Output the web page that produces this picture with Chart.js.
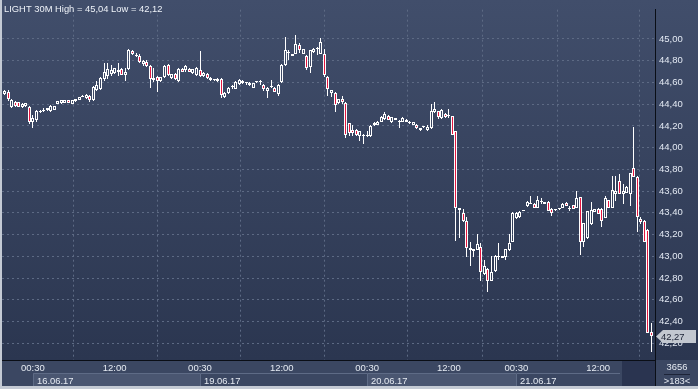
<!DOCTYPE html>
<html>
<head>
<meta charset="utf-8">
<title>LIGHT 30M</title>
<script src="https://cdn.jsdelivr.net/npm/chart.js@4.4.0/dist/chart.umd.min.js"></script>
<style>
  html, body { margin: 0; padding: 0; background: #c4cad4; }
  #wrap { width: 698px; height: 389px; }
  canvas { display: block; }
</style>
</head>
<body>
<div id="wrap"><canvas id="chart" width="698" height="389"></canvas></div>
<script>
const SYMBOL = "LIGHT 30M";
const TOTAL_BARS = 3656;

// 30 minute candles, 16.06.17 - 21.06.17
const OPEN = [
  44.49, 44.51, 44.37, 44.42, 44.42, 44.37, 44.38, 44.37, 44.24, 44.25,
  44.33, 44.34, 44.35, 44.34, 44.35, 44.40, 44.41, 44.41, 44.44, 44.40,
  44.43, 44.44, 44.47, 44.46, 44.475, 44.44, 44.53, 44.54, 44.63, 44.66,
  44.68, 44.69, 44.71, 44.72, 44.67, 44.72, 44.89, 44.85, 44.84, 44.77,
  44.79, 44.75, 44.62, 44.65, 44.61, 44.65, 44.76, 44.64, 44.68, 44.61,
  44.72, 44.71, 44.72, 44.69, 44.67, 44.71, 44.66, 44.68, 44.62, 44.62,
  44.61, 44.635, 44.465, 44.50, 44.555, 44.54, 44.585, 44.61, 44.595, 44.595,
  44.55, 44.60, 44.605, 44.58, 44.52, 44.555, 44.55, 44.49, 44.60, 44.76,
  44.87, 44.86, 44.866, 44.945, 44.865, 44.845, 44.746, 44.88, 44.91, 44.866,
  44.857, 44.648, 44.507, 44.498, 44.41, 44.448, 44.409, 44.224, 44.164, 44.16,
  44.104, 44.119, 44.104, 44.104, 44.209, 44.209, 44.239, 44.26, 44.29, 44.239,
  44.269, 44.244, 44.239, 44.254, 44.239, 44.209, 44.21, 44.164, 44.194, 44.164,
  44.179, 44.328, 44.338, 44.269, 44.313, 44.29, 44.29, 44.15, 43.424, 43.403,
  43.329, 43.054, 43.045, 43.06, 43.09, 42.836, 42.881, 42.776, 42.866, 42.994,
  42.985, 42.994, 43.054, 43.135, 43.352, 43.358, 43.42, 43.463, 43.484, 43.484,
  43.448, 43.499, 43.499, 43.502, 43.433, 43.424, 43.439, 43.442, 43.493, 43.439,
  43.469, 43.448, 43.544, 43.135, 43.164, 43.293, 43.412, 43.433, 43.433, 43.352,
  43.514, 43.448, 43.573, 43.693, 43.573, 43.582, 43.573, 43.812, 43.732, 43.344,
  43.323, 43.239, 42.308
];
const HIGH = [
  44.53, 44.53, 44.45, 44.43, 44.42, 44.41, 44.41, 44.38, 44.30, 44.35,
  44.35, 44.36, 44.36, 44.39, 44.38, 44.43, 44.44, 44.44, 44.44, 44.44,
  44.45, 44.47, 44.48, 44.49, 44.48, 44.57, 44.61, 44.65, 44.78, 44.78,
  44.76, 44.73, 44.78, 44.73, 44.73, 44.91, 44.90, 44.87, 44.86, 44.81,
  44.81, 44.76, 44.73, 44.66, 44.65, 44.76, 44.77, 44.68, 44.69, 44.73,
  44.73, 44.76, 44.73, 44.72, 44.74, 44.89, 44.70, 44.69, 44.65, 44.63,
  44.64, 44.645, 44.51, 44.555, 44.575, 44.61, 44.635, 44.625, 44.605, 44.60,
  44.595, 44.615, 44.62, 44.585, 44.555, 44.62, 44.56, 44.585, 44.77, 45.015,
  44.895, 44.865, 45.04, 44.965, 44.91, 44.85, 44.90, 44.915, 44.925, 45.006,
  44.91, 44.66, 44.53, 44.51, 44.45, 44.478, 44.42, 44.23, 44.209, 44.17,
  44.149, 44.125, 44.149, 44.205, 44.239, 44.245, 44.29, 44.325, 44.30, 44.28,
  44.275, 44.25, 44.284, 44.26, 44.245, 44.24, 44.215, 44.18, 44.20, 44.209,
  44.403, 44.424, 44.34, 44.358, 44.32, 44.358, 44.295, 44.155, 43.442, 43.433,
  43.358, 43.129, 43.066, 43.209, 43.12, 42.97, 42.89, 43.006, 43.01, 43.12,
  43.0, 43.07, 43.209, 43.41, 43.41, 43.415, 43.43, 43.505, 43.553, 43.49,
  43.553, 43.532, 43.5, 43.505, 43.44, 43.43, 43.448, 43.49, 43.5, 43.463,
  43.475, 43.597, 43.55, 43.31, 43.418, 43.502, 43.435, 43.44, 43.44, 43.553,
  43.52, 43.741, 43.741, 43.753, 43.663, 43.645, 43.762, 44.188, 43.74, 43.36,
  43.33, 43.25, 42.388
];
const LOW = [
  44.485, 44.43, 44.36, 44.37, 44.37, 44.36, 44.37, 44.22, 44.18, 44.24,
  44.32, 44.33, 44.34, 44.33, 44.35, 44.40, 44.40, 44.41, 44.41, 44.40,
  44.42, 44.44, 44.465, 44.445, 44.42, 44.43, 44.52, 44.53, 44.61, 44.63,
  44.66, 44.68, 44.66, 44.67, 44.61, 44.71, 44.85, 44.83, 44.78, 44.75,
  44.74, 44.55, 44.60, 44.51, 44.60, 44.64, 44.66, 44.63, 44.62, 44.60,
  44.70, 44.70, 44.70, 44.68, 44.66, 44.65, 44.65, 44.63, 44.61, 44.61,
  44.60, 44.455, 44.46, 44.495, 44.535, 44.535, 44.58, 44.585, 44.58, 44.57,
  44.545, 44.59, 44.575, 44.52, 44.46, 44.55, 44.51, 44.475, 44.595, 44.755,
  44.805, 44.84, 44.86, 44.875, 44.86, 44.715, 44.686, 44.875, 44.85, 44.86,
  44.648, 44.478, 44.463, 44.328, 44.40, 44.40, 44.09, 44.104, 44.104, 44.11,
  44.06, 44.03, 44.10, 44.10, 44.20, 44.205, 44.235, 44.255, 44.25, 44.224,
  44.25, 44.179, 44.235, 44.235, 44.22, 44.205, 44.175, 44.149, 44.185, 44.149,
  44.175, 44.32, 44.26, 44.26, 44.275, 44.269, 44.119, 43.144, 43.164, 43.32,
  42.994, 42.91, 42.994, 43.055, 42.776, 42.83, 42.672, 42.77, 42.86, 42.97,
  42.98, 42.97, 43.05, 43.13, 43.345, 43.35, 43.415, 43.455, 43.478, 43.44,
  43.445, 43.48, 43.478, 43.418, 43.373, 43.415, 43.424, 43.44, 43.463, 43.418,
  43.439, 43.445, 43.015, 43.09, 43.16, 43.29, 43.41, 43.388, 43.269, 43.35,
  43.448, 43.445, 43.508, 43.573, 43.478, 43.58, 43.463, 43.73, 43.224, 43.3,
  43.135, 42.299, 42.12
];
const CLOSE = [
  44.52, 44.45, 44.44, 44.38, 44.37, 44.40, 44.41, 44.24, 44.27, 44.34,
  44.34, 44.35, 44.36, 44.38, 44.38, 44.43, 44.44, 44.44, 44.41, 44.44,
  44.45, 44.47, 44.475, 44.48, 44.44, 44.56, 44.58, 44.64, 44.70, 44.72,
  44.71, 44.73, 44.70, 44.67, 44.70, 44.90, 44.86, 44.84, 44.79, 44.80,
  44.75, 44.63, 44.64, 44.61, 44.65, 44.75, 44.67, 44.68, 44.63, 44.72,
  44.70, 44.75, 44.70, 44.72, 44.73, 44.66, 44.69, 44.64, 44.64, 44.625,
  44.635, 44.48, 44.505, 44.55, 44.56, 44.60, 44.62, 44.59, 44.59, 44.575,
  44.59, 44.605, 44.60, 44.54, 44.55, 44.56, 44.515, 44.58, 44.76, 44.895,
  44.875, 44.845, 44.955, 44.895, 44.91, 44.737, 44.895, 44.91, 44.905, 44.97,
  44.672, 44.537, 44.528, 44.388, 44.448, 44.418, 44.119, 44.134, 44.134, 44.119,
  44.149, 44.104, 44.119, 44.20, 44.224, 44.239, 44.284, 44.31, 44.254, 44.278,
  44.254, 44.239, 44.269, 44.239, 44.224, 44.239, 44.179, 44.179, 44.194, 44.194,
  44.338, 44.358, 44.278, 44.343, 44.278, 44.298, 44.119, 43.448, 43.442, 43.329,
  43.075, 43.075, 43.066, 43.114, 42.857, 42.91, 42.776, 42.857, 43.006, 43.006,
  43.0, 43.066, 43.12, 43.403, 43.403, 43.412, 43.424, 43.5, 43.484, 43.442,
  43.514, 43.499, 43.478, 43.418, 43.403, 43.424, 43.439, 43.484, 43.463, 43.439,
  43.439, 43.532, 43.135, 43.305, 43.418, 43.424, 43.433, 43.388, 43.329, 43.532,
  43.448, 43.612, 43.603, 43.573, 43.597, 43.642, 43.762, 43.732, 43.359, 43.314,
  43.135, 42.299, 42.27
];

const TIME_TICKS = [8, 31, 55, 78, 102, 125, 144, 167];
const TIME_LABELS = ["00:30", "12:00", "00:30", "12:00", "00:30", "12:00", "00:30", "12:00"];
const DATE_TICKS = [8, 55, 102, 144];
const DATE_LABELS = ["16.06.17", "19.06.17", "20.06.17", "21.06.17"];

const PRICE_MIN = 42.046;
const PRICE_MAX = 45.269;
const PRICE_STEP = 0.2;

const FONT = '"Liberation Sans", Arial, sans-serif';
const BG_TOP = "#414e6b";
const BG_BOTTOM = "#2b3650";
const GRID = "#5d6a84";
const DOWN = "#e3163f";
const LABEL = "#e3e9f3";

function fmt(v) {
  return v.toFixed(2).replace(".", ",");
}

function isDown(i) {
  return CLOSE[i] < OPEN[i];
}

const bodies = OPEN.map((o, i) => ({ x: i, y: [o, CLOSE[i]] }));
const upperWicks = OPEN.map((o, i) => ({ x: i, y: [Math.max(o, CLOSE[i]), HIGH[i]] }));
const lowerWicks = OPEN.map((o, i) => ({ x: i, y: [LOW[i], Math.min(o, CLOSE[i])] }));

// keep candles on whole pixels so 1px wicks stay sharp
const snapBars = {
  id: "snapBars",
  beforeDatasetsDraw(chart) {
    chart.getSortedVisibleDatasetMetas().forEach((meta) => {
      meta.data.forEach((bar) => {
        bar.x = Math.round(bar.x - 0.5) + 0.5;
        bar.y = Math.round(bar.y);
        bar.base = Math.round(bar.base);
      });
    });
  },
};

const frame = {
  id: "frame",
  beforeDraw(chart) {
    const { ctx, width, height, chartArea: a } = chart;
    ctx.save();
    const g = ctx.createLinearGradient(0, 0, 0, a.bottom);
    g.addColorStop(0, BG_TOP);
    g.addColorStop(1, BG_BOTTOM);
    ctx.fillStyle = g;
    ctx.fillRect(0, 0, width, a.bottom);

    ctx.fillStyle = "#3b4762";
    ctx.fillRect(0, a.bottom, width, height - a.bottom);

    // date boxes
    const xs = chart.scales.x;
    DATE_TICKS.forEach((t, k) => {
      const x1 = Math.round(xs.getPixelForValue(t));
      const x2 = k < DATE_TICKS.length - 1 ? Math.round(xs.getPixelForValue(DATE_TICKS[k + 1])) : 620;
      if (k % 2 === 0) {
        ctx.fillStyle = "#4a5671";
        ctx.fillRect(x1, 373, x2 - x1, 13);
      }
      ctx.strokeStyle = "#5e6b86";
      ctx.lineWidth = 1;
      ctx.beginPath();
      ctx.moveTo(x1 + 0.5, 386);
      ctx.lineTo(x1 + 0.5, 373.5);
      ctx.lineTo(x2, 373.5);
      ctx.stroke();
    });

    // scroll area and counter cell
    ctx.fillStyle = "#2a3450";
    ctx.fillRect(622, a.bottom + 1, a.right - 622, height - a.bottom - 4);
    ctx.restore();
  },
  afterDraw(chart) {
    const { ctx, width, height, chartArea: a } = chart;
    const ys = chart.scales.y;
    ctx.save();

    // title
    ctx.font = "9.4px " + FONT;
    ctx.fillStyle = "#eef2f8";
    ctx.textBaseline = "alphabetic";
    ctx.textAlign = "left";
    const hi = Math.max(...HIGH);
    const lo = Math.min(...LOW);
    ctx.fillText(SYMBOL + " High = " + fmt(hi) + " Low = " + fmt(lo), 4, 11.5);

    // date labels
    const xs = chart.scales.x;
    ctx.fillStyle = "#e6ebf3";
    DATE_TICKS.forEach((t, k) => {
      ctx.fillText(DATE_LABELS[k], Math.round(xs.getPixelForValue(t)) + 4, 384);
    });

    // right column divider through the bottom panel
    ctx.strokeStyle = "#0a0e16";
    ctx.lineWidth = 1;
    ctx.beginPath();
    ctx.moveTo(a.right + 0.5, a.bottom);
    ctx.lineTo(a.right + 0.5, height - 3);
    ctx.stroke();

    // bar counters
    ctx.textAlign = "center";
    ctx.fillText(String(TOTAL_BARS), 677, 370);
    ctx.fillText(">" + OPEN.length + "<", 677, 384);
    ctx.strokeStyle = "#1d2438";
    ctx.beginPath();
    ctx.moveTo(664, 374.5);
    ctx.lineTo(690, 374.5);
    ctx.stroke();

    // last price marker
    const last = CLOSE[CLOSE.length - 1];
    const py = Math.round(ys.getPixelForValue(last));
    ctx.fillStyle = "#c3c8d0";
    ctx.beginPath();
    ctx.moveTo(a.right + 1, py + 0.5);
    ctx.lineTo(a.right + 8, py - 6);
    ctx.lineTo(width - 2, py - 6);
    ctx.lineTo(width - 2, py + 7);
    ctx.lineTo(a.right + 8, py + 7);
    ctx.closePath();
    ctx.fill();
    ctx.fillStyle = "#1b2133";
    ctx.textAlign = "left";
    ctx.fillText(fmt(last), a.right + 6, py + 4);

    // outer light frame
    ctx.fillStyle = "#c4cad4";
    ctx.fillRect(0, 0, 2, height);
    ctx.fillRect(0, height - 3, width, 3);
    ctx.restore();
  },
};

Chart.defaults.font.family = FONT;

new Chart(document.getElementById("chart"), {
  type: "bar",
  data: {
    datasets: [
      {
        label: "Body",
        data: bodies,
        barThickness: 3,
        borderWidth: 1,
        borderSkipped: false,
        inflateAmount: 0,
        minBarLength: 1,
        borderColor: "#ffffff",
        backgroundColor: (c) => (isDown(c.dataIndex) ? DOWN : "rgba(0,0,0,0)"),
        grouped: false,
      },
      {
        label: "High",
        data: upperWicks,
        barThickness: 1,
        borderWidth: 0,
        inflateAmount: 0,
        backgroundColor: "#ffffff",
        grouped: false,
      },
      {
        label: "Low",
        data: lowerWicks,
        barThickness: 1,
        borderWidth: 0,
        inflateAmount: 0,
        backgroundColor: "#ffffff",
        grouped: false,
      },
    ],
  },
  options: {
    responsive: false,
    animation: false,
    devicePixelRatio: 1,
    layout: { padding: { left: 2, right: 0, top: 0, bottom: 0 } },
    plugins: { legend: { display: false }, tooltip: { enabled: false } },
    scales: {
      x: {
        type: "linear",
        min: -0.7,
        max: 182.99,
        offset: false,
        afterBuildTicks: (scale) => {
          scale.ticks = TIME_TICKS.map((v) => ({ value: v }));
        },
        afterFit: (scale) => {
          scale.height = 29;
        },
        ticks: {
          autoSkip: false,
          maxRotation: 0,
          padding: 3,
          color: "#e6ebf3",
          font: { size: 9.5 },
          callback: (v) => {
            const k = TIME_TICKS.indexOf(v);
            return k >= 0 ? TIME_LABELS[k] : "";
          },
        },
        grid: { color: GRID, drawTicks: false, lineWidth: 1 },
        border: { display: true, color: "#0a0e16", width: 1, dash: [2, 3] },
      },
      y: {
        position: "right",
        min: PRICE_MIN,
        max: PRICE_MAX,
        afterBuildTicks: (scale) => {
          scale.ticks = scale.ticks.filter((t) => t.value <= 45.0001);
        },
        afterFit: (scale) => {
          scale.width = 43;
        },
        ticks: {
          stepSize: PRICE_STEP,
          includeBounds: false,
          maxTicksLimit: 40,
          padding: 4,
          color: LABEL,
          font: { size: 9.5 },
          callback: (v) => fmt(v),
        },
        grid: { color: GRID, drawTicks: false, lineWidth: 1 },
        border: { display: true, color: "#0a0e16", width: 1, dash: [2, 3] },
      },
    },
  },
  plugins: [frame, snapBars],
});
</script>
</body>
</html>
